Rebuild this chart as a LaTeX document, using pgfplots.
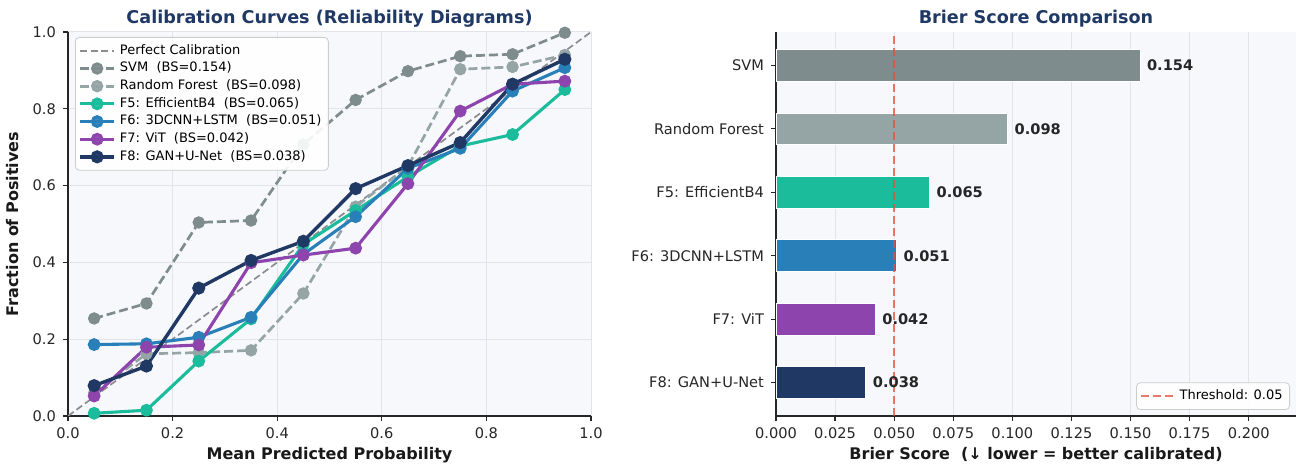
\documentclass[border=0pt]{standalone}
\usepackage{fontspec}
\setmainfont{DejaVu Sans}
\usepackage{pgfplots}
\pgfplotsset{compat=1.18}
\definecolor{cSVM}{HTML}{7F8C8D}
\definecolor{cRF}{HTML}{95A5A6}
\definecolor{cF5}{HTML}{1ABC9C}
\definecolor{cF6}{HTML}{2980B9}
\definecolor{cF7}{HTML}{8E44AD}
\definecolor{cF8}{HTML}{1F3864}
\definecolor{ctitle}{HTML}{1F3864}
\definecolor{cbg}{HTML}{F7F8FC}
\definecolor{cgrid}{HTML}{E3E4EA}
\definecolor{cthr}{HTML}{E74C3C}
\begin{document}
\begin{tikzpicture}
\useasboundingbox (0,0) rectangle (648pt,232pt);
\pgfplotsset{
  common/.style={
    scale only axis,
    axis background/.style={fill=cbg},
    axis x line*=bottom, axis y line*=left,
    axis line style={-, line width=0.75pt, color=black!85},
    tick align=outside,
    major tick length=2.5pt,
    tick style={line width=0.6pt, color=black!85},
    every tick label/.append style={font=\fontsize{7.3}{8.5}\selectfont, text=black!85},
    /pgf/number format/assume math mode=true,
    title style={font=\bfseries\fontsize{8.8}{10.5}\selectfont, text=ctitle, yshift=-7pt},
    label style={font=\bfseries\fontsize{8}{9.6}\selectfont, text=black!90},
    xlabel style={yshift=2.5pt},
    grid style={cgrid, line width=0.5pt},
  },
  calib/.style={line width=1.55pt, mark=*, mark size=2.4pt, mark options={solid}},
  base/.style={line width=1.35pt, dash pattern=on 4.5pt off 2pt, mark=*, mark size=2.4pt, mark options={solid}},
  bars/.style={xbar, bar width=0.5, draw=white, line width=0.4pt, forget plot,
    point meta=x,
    nodes near coords={\pgfmathprintnumber[fixed,fixed zerofill,precision=3]{\pgfplotspointmeta}},
    nodes near coords style={font=\bfseries\fontsize{7.3}{8.5}\selectfont, text=black!85, anchor=west}},
}
\begin{axis}[common, at={(34pt,24pt)}, anchor=south west, width=261.5pt, height=192pt,
  xmin=0, xmax=1, ymin=0, ymax=1,
  xtick={0,0.2,0.4,0.6,0.8,1}, ytick={0,0.2,0.4,0.6,0.8,1},
  xticklabel style={/pgf/number format/.cd, fixed, fixed zerofill, precision=1},
  yticklabel style={/pgf/number format/.cd, fixed, fixed zerofill, precision=1},
  grid=major,
  title={Calibration Curves (Reliability Diagrams)},
  xlabel={Mean Predicted Probability}, ylabel={Fraction of Positives},
  legend style={at={(0,1)}, anchor=north west, xshift=3.5pt, yshift=-2.5pt,
    font=\fontsize{6.5}{7.8}\selectfont, draw=black!20, rounded corners=2pt,
    fill=white, fill opacity=0.9, text opacity=1, inner sep=1.5pt, row sep=-1.6pt},
  legend cell align=left,
]
\addplot[black!45, line width=0.85pt, dash pattern=on 3.5pt off 1.75pt] coordinates {(0,0) (1,1)};
\addlegendentry{Perfect Calibration}
\addplot[base, color=cSVM] coordinates {
(0.05,0.254) (0.15,0.293) (0.25,0.504) (0.35,0.509) (0.45,0.707)
(0.55,0.823) (0.65,0.898) (0.75,0.937) (0.85,0.942) (0.95,0.998)};
\addlegendentry{SVM\ \ (BS=0.154)}
\addplot[base, color=cRF] coordinates {
(0.05,0.060) (0.15,0.162) (0.25,0.165) (0.35,0.171) (0.45,0.319)
(0.55,0.545) (0.65,0.650) (0.75,0.903) (0.85,0.909) (0.95,0.940)};
\addlegendentry{Random Forest\ \ (BS=0.098)}
\addplot[calib, color=cF5] coordinates {
(0.05,0.007) (0.15,0.015) (0.25,0.143) (0.35,0.253) (0.45,0.447)
(0.55,0.535) (0.65,0.623) (0.75,0.703) (0.85,0.733) (0.95,0.850)};
\addlegendentry{F5: EfficientB4\ \ (BS=0.065)}
\addplot[calib, color=cF6] coordinates {
(0.05,0.186) (0.15,0.188) (0.25,0.205) (0.35,0.257) (0.45,0.421)
(0.55,0.519) (0.65,0.645) (0.75,0.697) (0.85,0.846) (0.95,0.907)};
\addlegendentry{F6: 3DCNN+LSTM\ \ (BS=0.051)}
\addplot[calib, color=cF7] coordinates {
(0.05,0.052) (0.15,0.179) (0.25,0.185) (0.35,0.399) (0.45,0.419)
(0.55,0.437) (0.65,0.605) (0.75,0.794) (0.85,0.864) (0.95,0.872)};
\addlegendentry{F7: ViT\ \ (BS=0.042)}
\addplot[calib, color=cF8, line width=1.7pt] coordinates {
(0.05,0.079) (0.15,0.130) (0.25,0.333) (0.35,0.405) (0.45,0.455)
(0.55,0.592) (0.65,0.652) (0.75,0.712) (0.85,0.864) (0.95,0.929)};
\addlegendentry{F8: GAN+U-Net\ \ (BS=0.038)}
\end{axis}

\begin{axis}[common, at={(388pt,24pt)}, anchor=south west, width=260pt, height=192pt,
  xmin=0, xmax=0.22, ymin=-0.525, ymax=5.525,
  xtick={0,0.025,0.05,0.075,0.1,0.125,0.15,0.175,0.2},
  xticklabel style={/pgf/number format/.cd, fixed, fixed zerofill, precision=3},
  ytick={0,1,2,3,4,5},
  yticklabels={F8: GAN+U-Net, F7: ViT, F6: 3DCNN+LSTM, F5: EfficientB4, Random Forest, SVM},
  xmajorgrids,
  title={Brier Score Comparison},
  xlabel={Brier Score\ \ (↓ lower = better calibrated)},
  legend style={at={(1,0)}, anchor=south east, xshift=-3pt, yshift=3pt,
    font=\fontsize{6.5}{7.8}\selectfont, draw=black!20, rounded corners=2pt,
    fill=white, fill opacity=0.9, text opacity=1, inner sep=1.5pt},
]
\addplot[bars, fill=cSVM] coordinates {(0.154,5)};
\addplot[bars, fill=cRF] coordinates {(0.098,4)};
\addplot[bars, fill=cF5] coordinates {(0.065,3)};
\addplot[bars, fill=cF6] coordinates {(0.051,2)};
\addplot[bars, fill=cF7] coordinates {(0.042,1)};
\addplot[bars, fill=cF8] coordinates {(0.038,0)};
\addplot[cthr, opacity=0.75, line width=1pt, dash pattern=on 4pt off 2pt] coordinates {(0.05,-0.525) (0.05,5.525)};
\addlegendentry{Threshold: 0.05}
\end{axis}
\end{tikzpicture}
\end{document}
